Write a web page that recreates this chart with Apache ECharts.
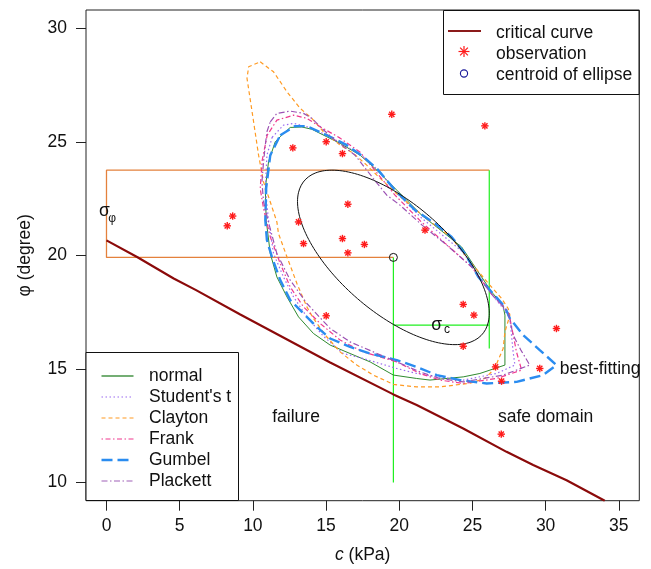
<!DOCTYPE html>
<html>
<head>
<meta charset="utf-8">
<script src="https://cdn.jsdelivr.net/npm/echarts@6/dist/echarts.min.js"></script>
<style>
  html, body { margin: 0; padding: 0; background: #fff; }
  #chart { width: 651px; height: 569px; }
</style>
</head>
<body>
<div id="chart"></div>
<script>
// Axis ticks
const xTicks = [0, 5, 10, 15, 20, 25, 30, 35];
const yTicks = [10, 15, 20, 25, 30];

// Critical (limit-state) curve: cohesion c (kPa) vs friction angle phi (degree)
const critC   = [0, 2.09, 4.59, 6.12, 9.14, 15.28, 19.6, 21.19, 24.37, 27.33, 29.15, 31.43, 34.04];
const critPhi = [20.66, 19.93, 18.98, 18.47, 17.40, 15.28, 13.88, 13.41, 12.38, 11.35, 10.77, 10.10, 9.20];

// Observations
const obsC   = [8.25, 8.62, 12.73, 15.01, 13.12, 13.46, 19.49, 25.85, 16.12, 16.49, 16.12, 17.62, 16.49, 21.76, 24.37, 25.10, 15.01, 24.37, 30.74, 26.58, 29.60, 26.99, 26.97];
const obsPhi = [21.30, 21.73, 24.73, 25.00, 21.47, 20.52, 26.21, 25.70, 24.48, 22.25, 20.74, 20.48, 20.11, 21.11, 17.84, 17.37, 17.34, 16.00, 16.78, 15.09, 15.02, 14.46, 12.13];

// Ellipse parameters (mean, standard deviations, correlation)
const centroid = [19.6, 19.91];
const sigma = [6.55, 3.84];
const rho = -0.64;

// Sigma guide segments
const sigmaPhiGuide = [[19.6, 19.91], [0, 19.91], [0, 23.75], [26.15, 23.75]];
const sigmaCGuideA = [[19.6, 19.91], [19.6, 10.0]];
const sigmaCGuideB = [[26.15, 23.75], [26.15, 15.9]];
const sigmaCGuideC = [[19.6, 16.93], [26.15, 16.93]];

// Copula contours
const normalContour = [[11.87,25.22],[12.55,25.63],[13.35,25.65],[14.03,25.55],[15.05,25.22],[15.96,24.93],[17.33,24.41],[18.47,23.75],[19.83,22.87],[21.53,21.77],[23.12,20.96],[24.26,20.37],[25.17,19.49],[26.31,18.39],[27.08,17.81],[27.22,17.37],[27.22,15.17],[25.51,14.80],[24.37,14.65],[22.10,14.51],[21.19,14.58],[19.60,14.73],[18.01,15.31],[16.64,15.68],[15.28,16.05],[14.14,16.56],[13.12,17.29],[12.33,18.17],[11.64,19.05],[11.19,20.08],[10.91,21.55],[10.85,22.94],[11.07,24.12],[11.53,25.00],[11.87,25.22]];
const studentContour = [[11.32,25.20],[12.09,25.73],[12.78,25.81],[13.69,25.66],[15.05,25.29],[16.30,24.85],[17.67,24.28],[18.69,23.66],[19.71,22.83],[21.53,21.64],[23.12,20.80],[24.28,20.18],[25.17,19.39],[26.31,18.29],[27.08,17.68],[27.56,17.22],[27.78,15.75],[27.90,15.17],[26.65,14.80],[24.37,14.51],[22.78,14.64],[21.19,14.80],[19.83,15.02],[17.53,15.46],[16.17,15.68],[14.82,16.44],[13.69,17.29],[12.78,18.17],[12.09,19.05],[11.41,20.08],[11.07,21.55],[10.85,22.94],[10.96,24.41],[11.32,25.20]];
const claytonContour = [[10.50,28.52],[11.41,28.08],[12.33,27.20],[13.23,26.47],[14.03,26.03],[14.82,25.44],[15.96,24.85],[16.87,24.49],[17.78,23.97],[18.47,23.53],[19.71,22.78],[21.98,21.55],[23.47,20.85],[24.95,19.64],[26.19,18.69],[26.99,18.10],[27.44,17.66],[27.56,17.37],[27.22,16.63],[27.10,15.90],[26.76,15.39],[26.53,15.02],[25.85,14.58],[24.83,14.37],[22.78,14.21],[21.19,14.21],[19.60,14.32],[18.23,14.73],[17.10,15.17],[15.96,15.75],[14.94,16.49],[14.12,17.24],[13.69,17.73],[13.01,18.76],[12.33,19.93],[11.75,20.96],[11.64,21.47],[11.19,22.35],[10.73,23.23],[10.39,24.41],[10.05,25.88],[9.60,27.79],[9.71,28.30],[10.50,28.52]];
const frankContour = [[10.98,25.29],[11.64,25.95],[12.78,26.17],[13.69,26.03],[14.60,25.66],[15.96,25.16],[17.33,24.54],[18.55,23.57],[19.71,22.65],[21.53,21.46],[23.12,20.54],[24.95,19.49],[26.31,18.29],[27.22,17.68],[27.56,17.24],[28.01,15.75],[28.36,14.95],[26.65,14.58],[24.37,14.36],[22.78,14.51],[21.42,14.80],[19.83,15.31],[18.69,15.53],[17.53,15.75],[15.96,16.27],[14.60,17.00],[13.46,17.73],[12.55,18.61],[11.87,19.64],[11.19,20.81],[10.73,22.06],[10.50,22.94],[10.64,24.19],[10.98,25.29]];
const gumbelContour = [[11.87,25.29],[12.89,25.69],[13.69,25.69],[15.28,25.22],[16.42,24.85],[17.55,24.34],[18.47,23.82],[19.71,22.87],[21.08,21.99],[22.44,21.40],[23.58,20.81],[24.49,20.08],[25.40,19.05],[26.31,18.39],[27.22,17.73],[27.56,17.22],[28.47,16.49],[29.60,15.83],[30.74,15.17],[29.83,14.73],[28.02,14.43],[25.97,14.36],[24.15,14.51],[22.56,14.73],[21.19,15.09],[19.83,15.39],[18.01,15.68],[16.64,15.97],[15.28,16.34],[14.37,16.85],[13.35,17.51],[12.55,18.03],[11.87,18.91],[11.30,19.93],[10.96,20.67],[10.85,21.55],[10.91,22.96],[11.19,24.41],[11.87,25.29]];
const plackettContour = [[11.19,25.88],[11.64,26.25],[12.55,26.35],[13.46,26.25],[14.03,26.03],[14.71,25.59],[15.62,25.07],[16.98,24.41],[18.23,23.38],[19.15,22.65],[20.05,22.21],[21.56,21.33],[23.12,20.52],[24.95,19.49],[26.31,18.29],[27.08,17.76],[27.44,17.51],[27.78,16.49],[28.31,15.83],[28.92,15.17],[27.10,14.73],[24.37,14.43],[22.78,14.58],[21.42,14.87],[19.83,15.31],[18.23,15.75],[16.64,16.19],[15.28,16.78],[13.69,17.88],[12.55,18.91],[11.64,20.08],[11.12,21.33],[10.73,22.35],[10.62,23.23],[10.73,24.12],[10.85,24.85],[10.96,25.44],[11.19,25.88]];

// Copula names and styles
const copulaNames = ['normal', "Student's t", 'Clayton', 'Frank', 'Gumbel', 'Plackett'];
const copulaData = [normalContour, studentContour, claytonContour, frankContour, gumbelContour, plackettContour];
const copulaColors = ['#2f8a2f', '#9a6af0', '#ff9a22', '#f0388e', '#2a8cf0', '#9c52b4'];
const copulaLegendColors = ['#74ae74', '#9a6af0', '#ff9a22', '#f0388e', '#2a8cf0', '#a060b8'];
const copulaDash = ['solid', [1.5, 2.5], [4, 3], [1.5, 2.5, 5, 2.5], [11, 5], [6, 2.5, 1.5, 2.5]];
const copulaWidth = [1, 1.2, 1.2, 1.2, 2.4, 1.2];

// Text annotations
const noteText = ['failure', 'safe domain', 'best-fitting', 'σ', 'φ', 'σ', 'c'];
const noteC    = [12.95, 30.0, 30.97, -0.14, 0.39, 22.56, 23.26];
const notePhi  = [12.89, 12.89, 14.98, 21.95, 21.62, 16.93, 16.71];
const noteSize = [17.5, 17.5, 17.5, 17.5, 12, 17.5, 12];
const noteAlign = ['center', 'center', 'left', 'center', 'center', 'center', 'center'];

const FONT = '"Liberation Sans", Arial, Helvetica, sans-serif';

// Ellipse outline from its moments
function ellipsePoints() {
  const delta = Math.acos(rho);
  const pts = [];
  for (let k = 0; k <= 180; k++) {
    const t = (k / 180) * 2 * Math.PI;
    pts.push([centroid[0] + sigma[0] * Math.cos(t), centroid[1] + sigma[1] * Math.cos(t - delta)]);
  }
  return pts;
}

const series = [];

copulaData.forEach((d, i) => {
  series.push({
    name: copulaNames[i], type: 'line', data: d, showSymbol: false, smooth: false,
    lineStyle: { color: copulaColors[i], width: copulaWidth[i], type: copulaDash[i] },
    z: 3, silent: true
  });
});

series.push({
  name: 'ellipse', type: 'line', data: ellipsePoints(), showSymbol: false,
  lineStyle: { color: '#111', width: 1 }, z: 4, silent: true
});

series.push({
  name: 'sigmaPhi', type: 'line', data: sigmaPhiGuide, showSymbol: false,
  lineStyle: { color: '#e4813c', width: 1.3 }, z: 2, silent: true
});
[sigmaCGuideA, sigmaCGuideB, sigmaCGuideC].forEach((g, i) => {
  series.push({
    name: 'sigmaC' + i, type: 'line', data: g, showSymbol: false,
    lineStyle: { color: '#1fef1f', width: 1.2 }, z: 2, silent: true
  });
});

series.push({
  name: 'critical curve', type: 'line',
  data: critC.map((c, i) => [c, critPhi[i]]),
  showSymbol: false,
  lineStyle: { color: '#8b0a0a', width: 2.2 }, z: 5, silent: true
});

// Observation asterisks
series.push({
  name: 'observation', type: 'custom',
  data: obsC.map((c, i) => [c, obsPhi[i]]),
  renderItem: function (params, api) {
    const p = api.coord([api.value(0), api.value(1)]);
    const r = 3.7;
    const children = [0, 45, 90, 135].map(a => {
      const rad = a * Math.PI / 180;
      return {
        type: 'line',
        shape: { x1: p[0] - r * Math.cos(rad), y1: p[1] - r * Math.sin(rad), x2: p[0] + r * Math.cos(rad), y2: p[1] + r * Math.sin(rad) },
        style: { stroke: '#ff1a1a', lineWidth: 1.4 }
      };
    });
    return { type: 'group', children: children };
  },
  z: 6, silent: true
});

series.push({
  name: 'centroid', type: 'scatter', data: [centroid], symbol: 'circle', symbolSize: 8,
  itemStyle: { color: 'rgba(255,255,255,0)', borderColor: '#111', borderWidth: 1, opacity: 1 },
  z: 7, silent: true
});

series.push({
  name: 'notes', type: 'scatter', symbolSize: 0, silent: true, z: 8,
  itemStyle: { opacity: 1 },
  data: noteText.map((t, i) => ({
    value: [noteC[i], notePhi[i]],
    label: {
      show: true, position: 'inside', formatter: t, align: noteAlign[i], verticalAlign: 'middle',
      fontSize: noteSize[i], fontFamily: FONT, color: '#111', opacity: 1
    }
  }))
});

// Legend blocks
const graphics = [];
graphics.push({ type: 'rect', shape: { x: 443.5, y: 10.5, width: 195.5, height: 84 }, style: { fill: '#fff', stroke: '#111', lineWidth: 1 }, z: 100 });
graphics.push({ type: 'line', shape: { x1: 448, y1: 31, x2: 481, y2: 31 }, style: { stroke: '#8b1a1a', lineWidth: 2.2 }, z: 101 });
[0, 45, 90, 135].forEach(a => {
  const rad = a * Math.PI / 180, r = 5.5;
  graphics.push({ type: 'line', shape: { x1: 464 - r * Math.cos(rad), y1: 51.5 - r * Math.sin(rad), x2: 464 + r * Math.cos(rad), y2: 51.5 + r * Math.sin(rad) }, style: { stroke: '#ff1a1a', lineWidth: 1.2 }, z: 101 });
});
graphics.push({ type: 'circle', shape: { cx: 464, cy: 73.5, r: 3.6 }, style: { fill: 'none', stroke: '#1a1a9a', lineWidth: 1.1 }, z: 101 });
['critical curve', 'observation', 'centroid of ellipse'].forEach((t, i) => {
  graphics.push({ type: 'text', x: 496, y: 33 + i * 21, style: { text: t, fontSize: 17.5, fontFamily: FONT, fill: '#111', verticalAlign: 'middle', align: 'left' }, z: 101 });
});

graphics.push({ type: 'rect', shape: { x: 86, y: 352.5, width: 152.5, height: 148 }, style: { fill: '#fff', stroke: '#111', lineWidth: 1 }, z: 100 });
copulaNames.forEach((n, i) => {
  const y = 376 + i * 21;
  graphics.push({ type: 'line', shape: { x1: 101.5, y1: y, x2: 133.5, y2: y }, style: { stroke: copulaLegendColors[i], lineWidth: i === 0 ? 2 : copulaWidth[i], lineDash: copulaDash[i] === 'solid' ? null : copulaDash[i] }, z: 101 });
  graphics.push({ type: 'text', x: 149, y: y, style: { text: n, fontSize: 17.5, fontFamily: FONT, fill: '#111', verticalAlign: 'middle', align: 'left' }, z: 101 });
});

const chart = echarts.init(document.getElementById('chart'), null, { renderer: 'canvas' });
chart.setOption({
  animation: false,
  backgroundColor: '#fff',
  grid: { left: 86, top: 10, right: 11.7, bottom: 68.3, show: true, borderColor: '#222', borderWidth: 1, backgroundColor: 'rgba(0,0,0,0)' },
  xAxis: {
    type: 'value', min: -1.4, max: 36.4,
    axisLine: { show: false, onZero: false },
    axisTick: { show: true, length: 10, customValues: xTicks, lineStyle: { color: '#222', width: 1 } },
    axisLabel: { customValues: xTicks, margin: 16, fontSize: 17.5, fontFamily: FONT, color: '#111' },
    splitLine: { show: false },
    name: '{i|c} (kPa)', nameLocation: 'middle', nameGap: 45,
    nameTextStyle: { fontSize: 17.5, fontFamily: FONT, color: '#111', rich: { i: { fontStyle: 'italic', fontSize: 17.5, fontFamily: FONT, color: '#111' } } }
  },
  yAxis: {
    type: 'value', min: 9.2, max: 30.8,
    axisLine: { show: false, onZero: false },
    axisTick: { show: true, length: 10, customValues: yTicks, lineStyle: { color: '#222', width: 1 } },
    axisLabel: { customValues: yTicks, margin: 19, fontSize: 17.5, fontFamily: FONT, color: '#111' },
    splitLine: { show: false },
    name: 'φ (degree)', nameLocation: 'middle', nameGap: 52, nameRotate: 90,
    nameTextStyle: { fontSize: 17.5, fontFamily: FONT, color: '#111' }
  },
  graphic: graphics,
  series: series
});
</script>
</body>
</html>
